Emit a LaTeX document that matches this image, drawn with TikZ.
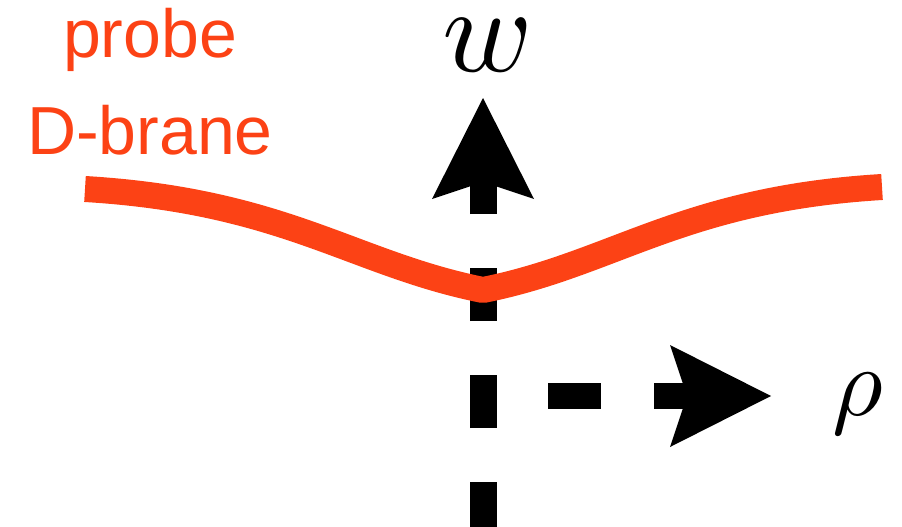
\documentclass[tikz,border=0pt]{standalone}
\usepackage{graphicx}
\usepackage{fontspec}
\newfontfamily\labelfont{Liberation Sans}
\definecolor{branered}{RGB}{252,66,21}
\tikzset{
  axisline/.style={line width=27pt, black, line cap=butt},
  arrowhead/.style={fill=black, draw=none},
  branecurve/.style={line width=26pt, branered, line cap=butt, line join=round},
  branelabel/.style={anchor=base, text=branered, font=\labelfont\fontsize{68}{68}\selectfont, inner sep=0pt},
}
\begin{document}
\begin{tikzpicture}[x=1pt,y=-1pt]
\useasboundingbox (0,0) rectangle (902,527);
% vertical axis w
\coordinate (vbot) at (483,527);
\coordinate (vtop) at (483,161);
\draw[axisline, dash pattern=on 53pt off 54pt, dash phase=8pt] (vbot) -- (vtop);
\fill[arrowhead] (483,98) -- (534,199) -- (483,182) -- (432,199) -- cycle;
% horizontal axis rho
\coordinate (hleft) at (548,396);
\coordinate (hright) at (700,396);
\draw[axisline, line width=26pt, dash pattern=on 53pt off 53pt] (hleft) -- (hright);
\fill[arrowhead] (771,396) -- (670,447) -- (687,396) -- (670,345) -- cycle;
% brane
\coordinate (bl) at (85,189);
\coordinate (bm) at (483,290);
\coordinate (br) at (882,187);
\draw[branecurve] (bl) .. controls (285,201) and (353,264) .. (bm)
                       .. controls (614,264) and (682,199) .. (br);
% labels
\node[branelabel] (probe) at (150,58) {probe};
\node[branelabel] (dbrane) at (150,154) {D-brane};
\node[anchor=base, inner sep=0pt] (wlab) at (488,71) {\scalebox{12.2}{$w$}};
\node[anchor=base, inner sep=0pt] (rholab) at (858,415) {\scalebox{9.8}{$\rho$}};
\end{tikzpicture}
\end{document}
